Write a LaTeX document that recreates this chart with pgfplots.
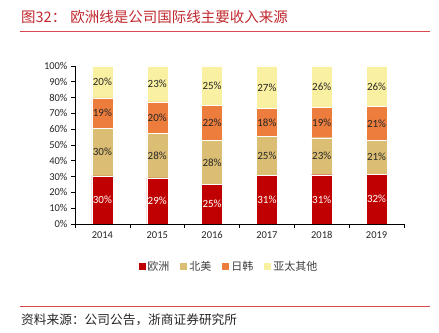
\documentclass[border=0pt]{standalone}
\usepackage{pgfplots}
\usepackage{pgfplotstable}
\pgfplotsset{compat=1.18}
\usepackage{fontspec}
\setmainfont{Carlito}
\newfontfamily\cjk{Noto Sans CJK SC}
\definecolor{cEU}{HTML}{C00000}
\definecolor{cNA}{HTML}{DBBE73}
\definecolor{cJK}{HTML}{ED7D3D}
\definecolor{cAP}{HTML}{FAF0A2}
\definecolor{ctitle}{HTML}{C0282E}
\definecolor{cline}{HTML}{D9484C}
\pgfplotstableread{
x year e n j o
0 2014 30.4 30.1 19.3 20.2
1 2015 29.2 28.1 20.0 22.7
2 2016 25.0 27.9 22.2 24.9
3 2017 30.6 24.8 17.6 27.0
4 2018 31.2 23.4 19.4 26.0
5 2019 31.6 21.4 21.3 25.7
}\data
\pgfplotsset{
  common/.style={
    at={(75bp,109bp)}, anchor=south west,
    scale only axis, width=329bp, height=158bp,
    xmin=-0.5, xmax=5.5, ymin=0, ymax=100,
  }
}
\begin{document}
\begin{tikzpicture}
\useasboundingbox (0,0) rectangle (439bp,333bp);
\begin{axis}[common,
  ybar stacked, bar width=21bp,
  axis x line*=bottom, axis y line*=left,
  tick align=outside, major tick length=4bp,
  tick style={black, line width=0.6bp},
  axis line style={black, line width=0.6bp},
  ytick={0,10,...,100},
  yticklabel={\pgfmathprintnumber{\tick}\%},
  xtick={-0.5,0.5,...,5.5}, xticklabels={},
  extra x ticks={0,1,2,3,4,5},
  extra x tick labels={2014,2015,2016,2017,2018,2019},
  extra x tick style={tick style={draw=none}},
  ticklabel style={font=\fontsize{10.5bp}{12bp}\selectfont, text=black!85},
  /pgf/number format/assume math mode=true,
  legend style={at={(0.468,-0.272)}, anchor=center, legend columns=4, draw=none,
    font=\cjk\fontsize{11bp}{13bp}\selectfont, text=black!75,
    /tikz/every even column/.append style={column sep=9bp}},
  legend image code/.code={\fill[#1,draw=none] (0bp,-3.5bp) rectangle (7bp,3.5bp);},
]
\addplot[fill=cEU, draw=white, line width=0.4bp] table[x=x, y=e] {\data};
\addplot[fill=cNA, draw=white, line width=0.4bp] table[x=x, y=n] {\data};
\addplot[fill=cJK, draw=white, line width=0.4bp] table[x=x, y=j] {\data};
\addplot[fill=cAP, draw=white, line width=0.4bp] table[x=x, y=o] {\data};
\legend{欧洲,北美,日韩,亚太其他}
\end{axis}
\begin{axis}[common, hide axis, clip=false,
  nodes near coords={\fontsize{11bp}{13bp}\selectfont\pgfmathprintnumber[fixed,precision=0]{\pgfplotspointmeta}\%},
  every node near coord/.append style={anchor=center, inner sep=0pt},
  /pgf/number format/assume math mode=true,
]
\addplot[draw=none, point meta=explicit, every node near coord/.append style={text=white}]
  table[x=x, y expr=\thisrow{e}/2, meta=e] {\data};
\addplot[draw=none, point meta=explicit, every node near coord/.append style={text=black!85}]
  table[x=x, y expr=\thisrow{e}+\thisrow{n}/2, meta=n] {\data};
\addplot[draw=none, point meta=explicit, every node near coord/.append style={text=black!85}]
  table[x=x, y expr=\thisrow{e}+\thisrow{n}+\thisrow{j}/2, meta=j] {\data};
\addplot[draw=none, point meta=explicit, every node near coord/.append style={text=black!85}]
  table[x=x, y expr=\thisrow{e}+\thisrow{n}+\thisrow{j}+\thisrow{o}/2, meta=o] {\data};
\end{axis}
\node[anchor=west, text=ctitle, font=\cjk\fontsize{14.5bp}{16bp}\selectfont, inner sep=0pt] at (21bp,316bp) {图32：\hspace{4bp}欧洲线是公司国际线主要收入来源};
\draw[cline, line width=0.8bp] (20bp,302bp) -- (430bp,302bp);
\draw[cline, line width=0.8bp] (20bp,27bp) -- (430bp,27bp);
\node[anchor=west, text=black!85, font=\cjk\fontsize{12.7bp}{14bp}\selectfont, inner sep=0pt] at (21bp,13bp) {资料来源：公司公告，浙商证券研究所};
\end{tikzpicture}
\end{document}
